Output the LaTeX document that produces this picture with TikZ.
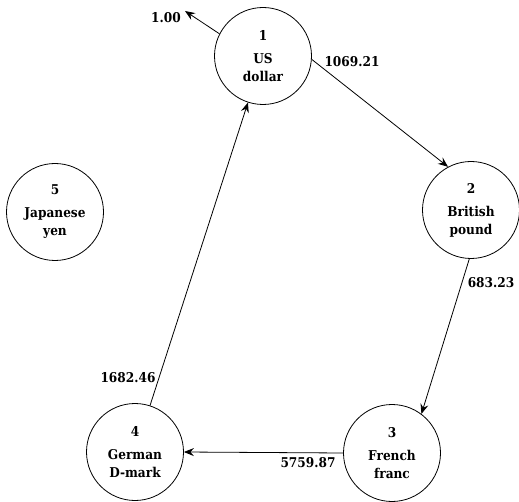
\documentclass[tikz,border=0pt]{standalone}
\usepackage{fontspec}
\setmainfont{DejaVu Serif Condensed}
\usetikzlibrary{arrows.meta}
\begin{document}
\begin{tikzpicture}[x=1pt,y=-1pt,
  every node/.style={font=\fontsize{13.5}{18}\selectfont\bfseries},
  cur/.style={draw,circle,minimum size=97pt,inner sep=0pt,line width=0.8pt,align=center},
  lbl/.style={inner sep=0pt},
  edge/.style={line width=0.8pt,-{Stealth[length=10pt,width=8pt,inset=3.5pt]}}]
\useasboundingbox (0,0) rectangle (519,502);
\node[cur] (n1) at (263,56) {1\\[5pt]US\\dollar};
\node[cur] (n2) at (471,210) {2\\[5pt]British\\pound};
\node[cur] (n3) at (392,453) {3\\[5pt]French\\franc};
\node[cur] (n4) at (135,452) {4\\[5pt]German\\D-mark};
\node[cur] (n5) at (55,212) {5\\[5pt]Japanese\\yen};
\coordinate (out) at (185,11);
\draw[edge] (n1.153) -- (out);
\draw[edge] (n1.-4) -- (n2.118);
\draw[edge] (n2.-92) -- (n3.53);
\draw[edge] (n3.west) -- (n4.east);
\draw[edge] (n4) -- (n1);
\node[lbl] (l1) at (166,18) {1.00};
\node[lbl] (l2) at (352,62) {1069.21};
\node[lbl] (l3) at (491,283) {683.23};
\node[lbl] (l4) at (308,463) {5759.87};
\node[lbl] (l5) at (128,378) {1682.46};
\end{tikzpicture}
\end{document}
